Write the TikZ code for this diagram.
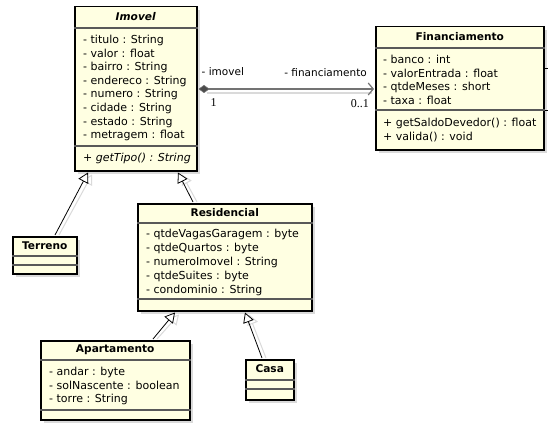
\documentclass[tikz,border=0pt]{standalone}
\usepackage{fontspec}
\setmainfont{DejaVu Sans}
\newfontfamily\multfont{Liberation Serif}
\usetikzlibrary{calc,arrows.meta,shadows}
\definecolor{boxfill}{RGB}{255,255,226}
\definecolor{shadowgray}{RGB}{218,218,218}
\tikzset{
  classbox/.style={draw=black, line width=1.5pt, fill=boxfill, anchor=north west, inner sep=0pt,
    drop shadow={shadow xshift=3.5pt, shadow yshift=-3.5pt, fill=shadowgray, opacity=1}},
  sepline/.style={draw=black!65, line width=1.2pt},
  ctitle/.style={font=\fontsize{10.6}{13}\selectfont\bfseries, inner sep=0pt},
  members/.style={font=\fontsize{11}{13.6}\selectfont, align=left, anchor=base west, inner sep=0pt},
  members14/.style={font=\fontsize{11}{14}\selectfont, align=left, anchor=base west, inner sep=0pt},
  lbl/.style={font=\fontsize{10.5}{12}\selectfont, inner sep=0pt},
  mult/.style={font=\multfont\fontsize{12}{12}\selectfont, inner sep=0pt},
  gen/.style={draw=black, line width=0.8pt, -{Triangle[open, length=10pt, width=11pt, fill=white]}},
  genshadow/.style={draw=shadowgray, line width=1pt, -{Triangle[open, length=10pt, width=11pt, fill=white]}},
  assoc/.style={draw=black!55, line width=1.6pt,
    {Diamond[length=11pt, width=8pt, fill=black!70, line width=0.6pt]}-{Straight Barb[length=5pt, width=12pt, line width=1.2pt]}},
}
\begin{document}
\begin{tikzpicture}[x=1pt, y=-1pt]
\fill[white] (0,0) rectangle (554,425);
\useasboundingbox (0,0) rectangle (554,425);

% ---------- Imovel ----------
\node[classbox, minimum width=122pt, minimum height=164pt] (imovel) at (74,6) {};
\node[ctitle] (imovelT) at ($(imovel.north)+(0,11)$) {\itshape Imovel};
\draw[sepline] ($(imovel.north west)+(0,22)$) -- ($(imovel.north east)+(0,22)$);
\node[members] (imovelA) at ($(imovel.north west)+(9,132.7)$)
  {- titulo : String\\- valor : float\\- bairro : String\\- endereco : String\\- numero : String\\- cidade : String\\- estado : String\\- metragem : float};
\draw[sepline] ($(imovel.north west)+(0,140)$) -- ($(imovel.north east)+(0,140)$);
\node[members] (imovelM) at ($(imovel.north west)+(9,155)$) {\itshape + getTipo() : String};

% ---------- Financiamento ----------
\node[classbox, minimum width=168pt, minimum height=123pt] (fin) at (375,26) {};
\node[ctitle] (finT) at ($(fin.north)+(0,11)$) {Financiamento};
\draw[sepline] ($(fin.north west)+(0,22)$) -- ($(fin.north east)+(0,22)$);
\node[members] (finA) at ($(fin.north west)+(8,78.3)$)
  {- banco : int\\- valorEntrada : float\\- qtdeMeses : short\\- taxa : float};
\draw[sepline] ($(fin.north west)+(0,84)$) -- ($(fin.north east)+(0,84)$);
\node[members] (finM) at ($(fin.north west)+(8,114.3)$)
  {+ getSaldoDevedor() : float\\+ valida() : void};
\draw[line width=1pt] ($(fin.north east)+(0,43)$) -- ++(3,0);
\draw[line width=1pt] ($(fin.north east)+(0,85)$) -- ++(3,0);

% ---------- Terreno ----------
\node[classbox, minimum width=64pt, minimum height=37pt] (terreno) at (12,236) {};
\node[ctitle] (terrenoT) at ($(terreno.north)+(0,10)$) {Terreno};
\draw[sepline] ($(terreno.north west)+(0,20)$) -- ($(terreno.north east)+(0,20)$);
\draw[sepline] ($(terreno.north west)+(0,29)$) -- ($(terreno.north east)+(0,29)$);

% ---------- Residencial ----------
\node[classbox, minimum width=174pt, minimum height=107pt] (res) at (137,203) {};
\node[ctitle] (resT) at ($(res.north)+(0,10)$) {Residencial};
\draw[sepline] ($(res.north west)+(0,20)$) -- ($(res.north east)+(0,20)$);
\node[members14] (resA) at ($(res.north west)+(9,90.5)$)
  {- qtdeVagasGaragem : byte\\- qtdeQuartos : byte\\- numeroImovel : String\\- qtdeSuites : byte\\- condominio : String};
\draw[sepline] ($(res.north west)+(0,96)$) -- ($(res.north east)+(0,96)$);

% ---------- Apartamento ----------
\node[classbox, minimum width=149pt, minimum height=79pt] (apt) at (40,340) {};
\node[ctitle] (aptT) at ($(apt.north)+(0,10)$) {Apartamento};
\draw[sepline] ($(apt.north west)+(0,20)$) -- ($(apt.north east)+(0,20)$);
\node[members] (aptA) at ($(apt.north west)+(9,62.6)$)
  {- andar : byte\\- solNascente : boolean\\- torre : String};
\draw[sepline] ($(apt.north west)+(0,70)$) -- ($(apt.north east)+(0,70)$);

% ---------- Casa ----------
\node[classbox, minimum width=48pt, minimum height=40pt] (casa) at (245,359) {};
\node[ctitle] (casaT) at ($(casa.north)+(0,10)$) {Casa};
\draw[sepline] ($(casa.north west)+(0,21)$) -- ($(casa.north east)+(0,21)$);
\draw[sepline] ($(casa.north west)+(0,30)$) -- ($(casa.north east)+(0,30)$);

% ---------- Generalizations ----------
\coordinate (g1s) at ($(terreno.north west)+(43,-1)$);
\coordinate (g1e) at ($(imovel.south west)+(14,1)$);
\coordinate (g2s) at ($(res.north west)+(56,-1)$);
\coordinate (g2e) at ($(imovel.south west)+(104,1)$);
\coordinate (g3s) at ($(apt.north west)+(113,-1)$);
\coordinate (g3e) at ($(res.south west)+(38,1)$);
\coordinate (g4s) at ($(casa.north west)+(17,-1)$);
\coordinate (g4e) at ($(res.south west)+(108,1)$);
\foreach \s/\e in {g1s/g1e, g2s/g2e, g3s/g3e, g4s/g4e}{
  \draw[genshadow] ($(\s)+(4,0)$) -- ($(\e)+(4,2)$);
}
\draw[gen] (g1s) -- (g1e);
\draw[gen] (g2s) -- (g2e);
\draw[gen] (g3s) -- (g3e);
\draw[gen] (g4s) -- (g4e);

% ---------- Association ----------
\coordinate (as) at ($(imovel.north east)+(1,83)$);
\coordinate (ae) at ($(fin.north west)+(-1,63)$);
\draw[shadowgray, line width=1.6pt] ($(as)+(8,4)$) -- ($(ae)+(-2,4)$);
\draw[assoc] (as) -- (ae);
\node[lbl, anchor=west] (limovel) at ($(imovel.north east)+(4,66)$) {- imovel};
\node[lbl, anchor=east] (lfin) at ($(fin.north west)+(-8,47)$) {- financiamento};
\node[mult] (m1) at ($(imovel.north east)+(16,97)$) {1};
\node[mult, anchor=east] (m2) at ($(fin.north west)+(-6,78)$) {0..1};
\end{tikzpicture}
\end{document}
